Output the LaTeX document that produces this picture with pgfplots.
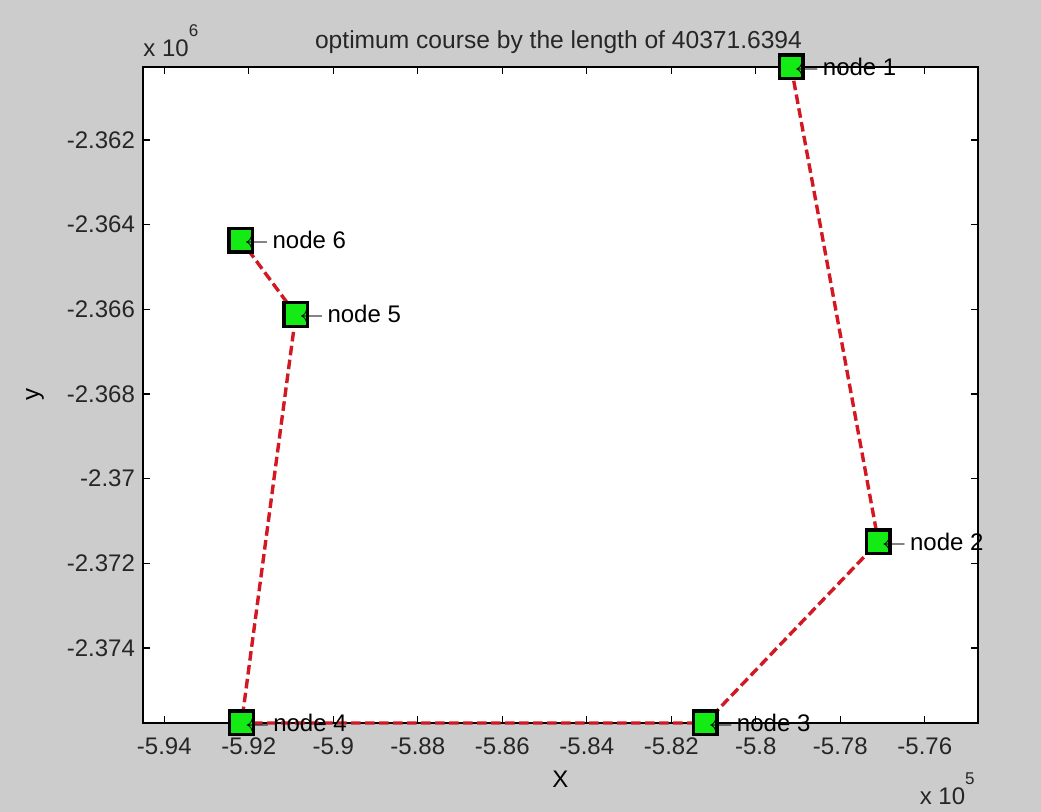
\documentclass[border=0pt]{standalone}
\usepackage{fontspec}
\setmainfont{Liberation Sans}
\usepackage{pgfplots}
\usepackage{pgfplotstable}
\pgfplotsset{compat=1.18}
\definecolor{figgray}{RGB}{204,204,204}
\definecolor{pathred}{RGB}{210,25,35}
\definecolor{nodegreen}{RGB}{20,235,20}

\pgfplotstableread{
x y label
-579161 -2360274 {node 1}
-577098 -2371496 {node 2}
-581195 -2375773 {node 3}
-592171 -2375773 {node 4}
-590887 -2366120 {node 5}
-592187 -2364364 {node 6}
}\nodetable

\begin{document}
\begin{tikzpicture}
\useasboundingbox (-71.5pt,-44.5pt) rectangle (449pt,361.5pt);
\fill[figgray] (-71.5pt,-44.5pt) rectangle (449pt,361.5pt);
\begin{axis}[
  at={(0,0)}, anchor=south west,
  width=417.5pt, height=328pt, scale only axis,
  xmin=-594504, xmax=-574740,
  ymin=-2375773, ymax=-2360274,
  axis background/.style={fill=white},
  axis line style={line width=0.6pt},
  clip=false,
  scaled ticks=false,
  tick align=inside,
  major tick length=3.5pt,
  tick style={line width=0.6pt, black},
  xtick={-594000,-592000,-590000,-588000,-586000,-584000,-582000,-580000,-578000,-576000},
  xticklabels={-5.94,-5.92,-5.9,-5.88,-5.86,-5.84,-5.82,-5.8,-5.78,-5.76},
  ytick={-2374000,-2372000,-2370000,-2368000,-2366000,-2364000,-2362000},
  yticklabels={-2.374,-2.372,-2.37,-2.368,-2.366,-2.364,-2.362},
  ticklabel style={font=\fontsize{12}{14}\selectfont, text=black!85},
  xticklabel style={yshift=-4pt},
  yticklabel style={xshift=-0.5pt},
  xlabel={X},
  xlabel style={at={(axis description cs:0.5,0)}, anchor=base, yshift=-32.5pt, font=\fontsize{12}{14}\selectfont},
  ylabel={y},
  ylabel style={at={(axis description cs:0,0.5)}, anchor=center, yshift=54pt, font=\fontsize{12}{14}\selectfont},
  title={optimum course by the length of 40371.6394},
  title style={at={(axis description cs:0.5,1)}, anchor=base, yshift=3pt, xshift=-1pt, font=\fontsize{12.3}{14.5}\selectfont, text=black!85},
]
\addplot[pathred, line width=1.7pt, dash pattern=on 4.8pt off 2.2pt] table[x=x,y=y] {\nodetable};
\addplot[only marks, mark=square*, mark size=5.9pt,
  mark options={fill=nodegreen, draw=black, line width=1.7pt, solid},
  point meta=explicit symbolic,
  nodes near coords={$\leftarrow$\,\pgfplotspointmeta},
  every node near coord/.style={anchor=west, inner sep=0pt, xshift=1pt, font=\fontsize{12}{14}\selectfont, text=black}
] table[x=x,y=y,meta=label] {\nodetable};
\node[anchor=base west, inner sep=0pt, font=\fontsize{12}{14}\selectfont, text=black!85] at (rel axis cs:0,1) [yshift=5pt] {x 10\raisebox{10pt}{\fontsize{8.5}{10}\selectfont 6}};
\node[anchor=base east, inner sep=0pt, font=\fontsize{12}{14}\selectfont, text=black!85] at (rel axis cs:1,0) [yshift=-41pt, xshift=-1.5pt] {x 10\raisebox{10pt}{\fontsize{8.5}{10}\selectfont 5}};
\end{axis}
\end{tikzpicture}
\end{document}
